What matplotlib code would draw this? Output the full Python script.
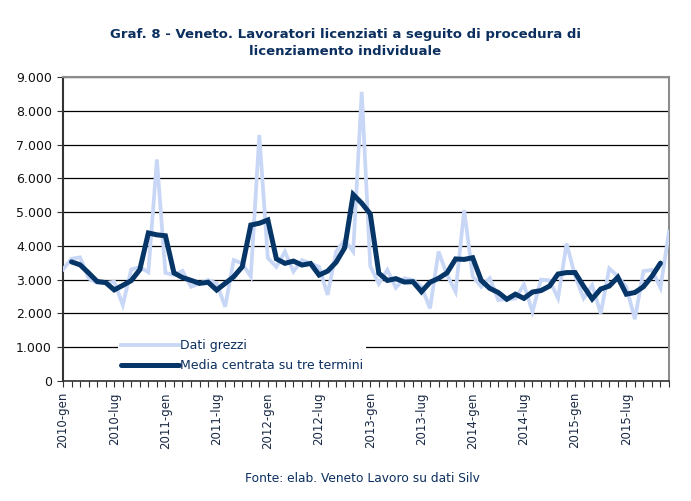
import matplotlib
matplotlib.use("Agg")
import matplotlib.pyplot as plt
from matplotlib.ticker import FixedLocator, FuncFormatter

# ---- data ----
years = [2010, 2011, 2012, 2013, 2014, 2015]
months = ["gen", "feb", "mar", "apr", "mag", "giu", "lug", "ago", "set", "ott", "nov", "dic"]
categories = [f"{y}-{m}" for y in years for m in months]

dati_grezzi = [
    3300, 3620, 3660, 3040, 2900, 2900, 2940, 2250, 3300, 3370, 3220, 6560,
    3200, 3140, 3260, 2790, 2890, 2990, 2890, 2200, 3580, 3480, 3090, 7280,
    3640, 3380, 3830, 3240, 3580, 3480, 3380, 2550, 3830, 4170, 3830, 8560,
    3400, 2880, 3290, 2760, 3040, 2990, 2790, 2150, 3830, 3140, 2640, 5060,
    3100, 2790, 3040, 2400, 2420, 2440, 2850, 2050, 3000, 2980, 2450, 4070,
    3110, 2450, 2840, 2000, 3330, 3100, 2780, 1830, 3250, 3290, 2760, 4420,
]

media_centrata = [
    None, 3527, 3440, 3200, 2947, 2913, 2697, 2830, 2973, 3297, 4383, 4327,
    4300, 3200, 3063, 2980, 2890, 2923, 2693, 2890, 3087, 3383, 4617, 4670,
    4767, 3617, 3483, 3550, 3433, 3480, 3137, 3253, 3517, 3943, 5520, 5263,
    4947, 3190, 2977, 3030, 2930, 2940, 2643, 2923, 3040, 3203, 3613, 3600,
    3650, 2977, 2743, 2620, 2420, 2570, 2447, 2633, 2677, 2810, 3167, 3210,
    3210, 2800, 2430, 2723, 2810, 3070, 2570, 2620, 2790, 3100, 3490, None,
]

y_ticks = [0, 1000, 2000, 3000, 4000, 5000, 6000, 7000, 8000, 9000]

title = "Graf. 8 - Veneto. Lavoratori licenziati a seguito di procedura di\nlicenziamento individuale"
source = "Fonte: elab. Veneto Lavoro su dati Silv"
label_raw = "Dati grezzi"
label_avg = "Media centrata su tre termini"

# ---- style ----
navy = "#0b2f5e"
light = "#c8d7f6"
dark = "#063567"

fig = plt.figure(figsize=(6.91, 5.01), dpi=100)
ax = fig.add_axes([63 / 691, 1 - 381 / 501, 606 / 691, 304 / 501])

x = list(range(len(categories)))
ax.plot(x, dati_grezzi, color=light, lw=2.7, label=label_raw, solid_joinstyle="miter", zorder=3)
xa = [i for i, v in zip(x, media_centrata) if v is not None]
ya = [v for v in media_centrata if v is not None]
ax.plot(xa, ya, color=dark, lw=3.6, label=label_avg, solid_capstyle="round",
        solid_joinstyle="miter", zorder=4)

ax.set_xlim(0, len(categories) - 1)
ax.set_ylim(0, 9000)

ax.yaxis.set_major_locator(FixedLocator(y_ticks))
ax.yaxis.set_major_formatter(FuncFormatter(lambda v, p: f"{int(v):,}".replace(",", ".")))
ax.grid(axis="y", color="black", lw=0.9, zorder=1)

ax.xaxis.set_major_locator(FixedLocator(list(range(0, len(categories), 6))))
ax.set_xticklabels([categories[i] for i in range(0, len(categories), 6)], rotation=90,
                   fontsize=8.5, color="#1a2a44")
ax.xaxis.set_minor_locator(FixedLocator(x))
ax.tick_params(axis="x", which="both", direction="out", length=4, width=0.8, color="#333333", pad=4)
ax.tick_params(axis="y", direction="out", length=4, width=0.8, labelsize=9, color="#333333",
               labelcolor="#111111", pad=4)

for s in ["top", "right"]:
    ax.spines[s].set_color("#8c8c8c")
    ax.spines[s].set_linewidth(1.5)
ax.spines["left"].set_color("#333333")
ax.spines["left"].set_linewidth(1.5)
ax.spines["bottom"].set_color("#333333")
ax.spines["bottom"].set_linewidth(1.2)

leg = ax.legend(loc="upper left", bbox_to_anchor=(0.09, 0.148), frameon=True, fontsize=9,
                handlelength=4.7, handletextpad=0.05, borderpad=0.25, labelspacing=0.55,
                borderaxespad=0.0)
leg.get_frame().set_facecolor("white")
leg.get_frame().set_edgecolor("none")
leg.get_frame().set_alpha(1.0)
for t in leg.get_texts():
    t.set_color(navy)

fig.text(0.5, 1 - 43 / 501, title, ha="center", va="center", fontsize=9.5, fontweight="bold",
         color=navy, linespacing=1.45)
fig.text(362 / 691, 1 - 478 / 501, source, ha="center", va="center", fontsize=8.8, color=navy)

fig.savefig("out.png", dpi=100)
